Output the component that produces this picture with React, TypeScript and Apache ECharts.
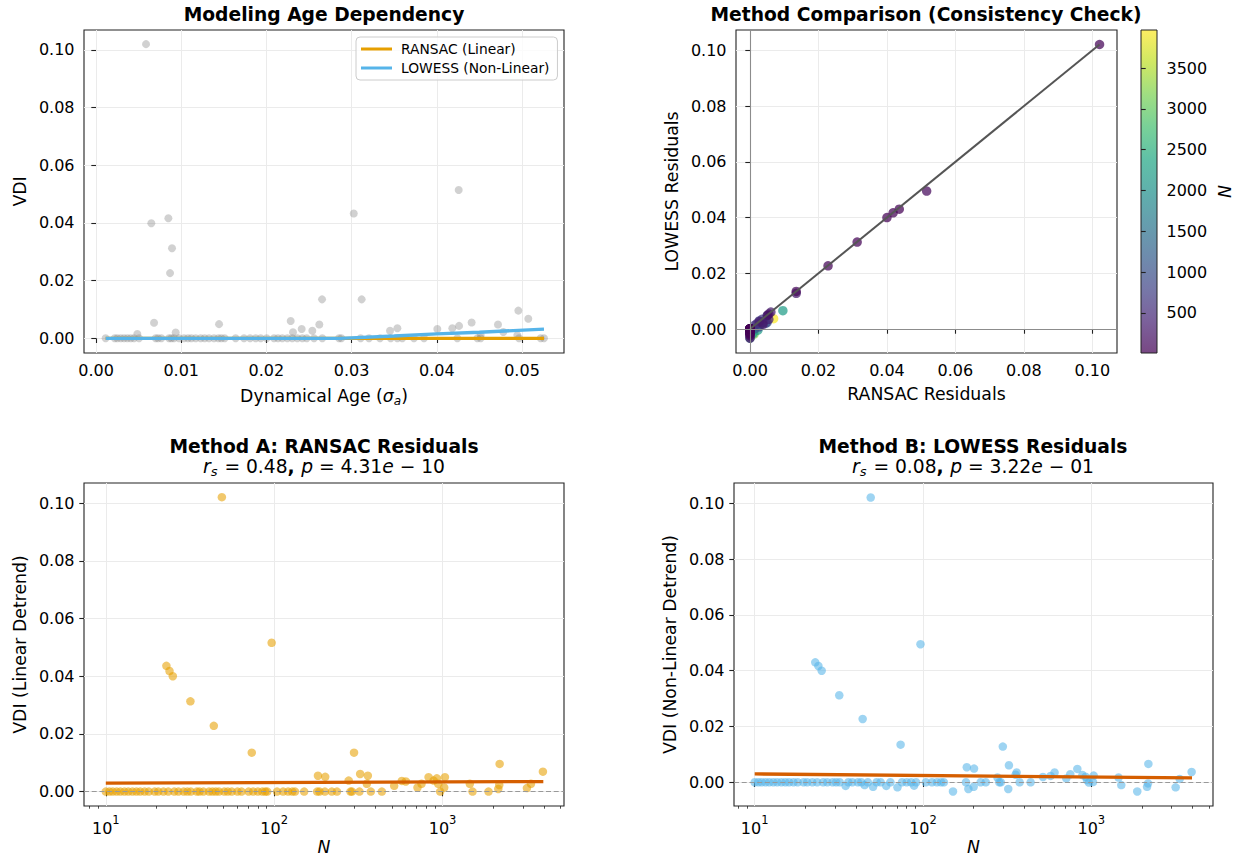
import React, { useEffect, useRef } from 'react';
import * as echarts from 'echarts';

// ---------- Panel 1: VDI vs dynamical age ----------
const ageTL = [
  0.00113, 0.00219, 0.0025, 0.0029, 0.00329, 0.00368, 0.00407, 0.00446, 0.00505, 0.0070,
  0.00728, 0.00767, 0.00857, 0.00884, 0.00915, 0.00974, 0.01033, 0.0108, 0.01119, 0.0117,
  0.01228, 0.01275, 0.01326, 0.01385, 0.01436, 0.01471, 0.0151, 0.01639, 0.01737, 0.01808,
  0.01874, 0.01933, 0.02003, 0.02089, 0.02136, 0.02187, 0.02246, 0.02304, 0.02363, 0.02422,
  0.02473, 0.02559, 0.02656, 0.02852, 0.0288, 0.03106, 0.03204, 0.03333, 0.03459, 0.03537,
  0.03595, 0.03732, 0.0385, 0.04241, 0.04476, 0.04515, 0.04965, 0.05219, 0.05258,
  0.00587, 0.00649, 0.00849, 0.00892, 0.00869, 0.04257, 0.03025, 0.00485, 0.00681, 0.00935,
  0.01444, 0.02285, 0.02312, 0.02414, 0.02539, 0.02621, 0.02653, 0.03118, 0.03451, 0.03537,
  0.04006, 0.04182, 0.04261, 0.04409, 0.04515, 0.04718, 0.04781, 0.04957, 0.05074, 0.04945,
];
const vdiTL = [
  0, 0, 0, 0, 0, 0, 0, 0, 0, 0,
  0, 0, 0, 0, 0, 0, 0, 0, 0, 0,
  0, 0, 0, 0, 0, 0, 0, 0, 0, 0,
  0, 0, 0, 0, 0, 0, 0, 0, 0, 0,
  0, 0, 0, 0, 0, 0, 0, 0, 0, 0,
  0, 0, 0, 0, 0, 0, 0, 0, 0,
  0.1020, 0.0399, 0.0416, 0.0312, 0.0226, 0.0514, 0.0433, 0.0015, 0.0054, 0.0020,
  0.0049, 0.0060, 0.0021, 0.0032, 0.0026, 0.0048, 0.0135, 0.0135, 0.0026, 0.0035,
  0.0032, 0.0035, 0.0043, 0.0055, 0.0011, 0.0048, 0.0022, 0.0096, 0.0068, 0.0011,
];
const ransacFitAge = [0.00113, 0.05258];
const ransacFitVdi = [0.0, 0.0];
const lowessFitAge = [0.00113, 0.010, 0.020, 0.0287, 0.035, 0.040, 0.045, 0.05258];
const lowessFitVdi = [0, 0, 0, 0, 0.0008, 0.0015, 0.0021, 0.0032];

// ---------- Residuals per star (panels 2-4) ----------
const nStars = [
  10, 10.5, 11, 11.6, 12.2, 12.9, 13.6, 14.4, 15.2, 16,
  17, 18, 19.5, 20.5, 22, 23.5, 25.5, 27, 29, 30.5,
  32, 34.7, 36, 38, 41, 43, 45, 47, 50.5, 53,
  56, 60.5, 64, 70.5, 75, 80, 85, 88.5, 91, 104,
  113, 121, 128, 133, 150.7, 180, 186, 200, 220, 236,
  284, 290, 321, 375, 436, 968, 1507, 1875,
  48.9, 96.6, 22.9, 23.9, 25.0, 31.8, 43.8, 73.6, 298, 2183,
  3945, 182, 201, 324, 360, 277, 355, 516, 573, 605,
  710, 750, 826, 885, 925, 942, 1023, 1033, 1452, 2143,
  2172, 3170, 3350,
];
const ransacRes = [
  0, 0, 0, 0, 0, 0, 0, 0, 0, 0,
  0, 0, 0, 0, 0, 0, 0, 0, 0, 0,
  0, 0, 0, 0, 0, 0, 0, 0, 0, 0,
  0, 0, 0, 0, 0, 0, 0, 0, 0, 0,
  0, 0, 0, 0, 0, 0, 0, 0, 0, 0,
  0, 0, 0, 0, 0, 0, 0, 0,
  0.1021, 0.0516, 0.0436, 0.0418, 0.0400, 0.0313, 0.0228, 0.0135, 0.0135, 0.0096,
  0.0069, 0.0055, 0.0051, 0.0061, 0.0055, 0.0038, 0.0027, 0.0020, 0.0037, 0.0035,
  0.0014, 0.0027, 0.0050, 0.0038, 0.0046, 0.0027, 0.0014, 0.0050, 0.0027, 0.0009,
  0.0023, 0.0012, 0.0027,
];
const lowessRes = [
  0, 0, 0, 0, 0, 0, 0, 0, 0, 0,
  0, 0, 0, 0, 0, 0, 0, 0, 0, 0,
  0, -0.0013, 0, 0, 0, 0, -0.0010, 0, -0.0016, 0,
  0, -0.0013, 0, -0.0018, 0, 0, 0, -0.0012, 0, 0,
  0, 0, 0, 0, -0.0033, 0, -0.0024, -0.0016, 0, 0,
  0, 0, -0.0024, 0, 0, -0.0001, -0.0010, -0.0033,
  0.1021, 0.0495, 0.0430, 0.0417, 0.0400, 0.0312, 0.0227, 0.0135, 0.0128, 0.0066,
  0.0037, 0.0054, 0.0049, 0.0061, 0.0035, 0.0017, 0.0027, 0.0019, 0.0023, 0.0035,
  0.0014, 0.0029, 0.0048, 0.0026, 0.0020, 0.0008, 0.0001, 0.0024, 0.0017, -0.0016,
  -0.0004, -0.0018, 0.0012,
];
const trendN = [10, 3966];
const trendA = [0.0029, 0.00347];
const trendB = [0.0030, 0.00155];
const statsA = { rs: '0.48', p: '4.31', e: '10' };
const statsB = { rs: '0.08', p: '3.22', e: '01' };

const nMin = 10;
const nMax = 3966;
const cbTicks = [500, 1000, 1500, 2000, 2500, 3000, 3500];
const resTicks = [0, 0.02, 0.04, 0.06, 0.08, 0.1];
const ageTicks = [0, 0.01, 0.02, 0.03, 0.04, 0.05];
const logMajor = [1, 2, 3];

const viridis = ['#440154', '#482475', '#414487', '#355f8d', '#2a788e', '#21918c', '#22a884', '#44bf70', '#7ad151', '#bddf26', '#fde725'];

const FONT = 'DejaVu Sans';

function hexA(h: string, a: number) {
  const r = parseInt(h.slice(1, 3), 16), g = parseInt(h.slice(3, 5), 16), b = parseInt(h.slice(5, 7), 16);
  return `rgba(${r},${g},${b},${a})`;
}

const logMinor: number[] = [];
for (let d = 0; d <= 3; d++) for (let k = 2; k <= 9; k++) logMinor.push(Math.log10(k * Math.pow(10, d)));

const tickText = { fontFamily: FONT, fontSize: 16, color: '#000' };
const nameText = { fontFamily: FONT, fontSize: 17.3, color: '#000' };
const splitStyle = { show: true, lineStyle: { color: '#ebebeb', width: 1 } };
const tickStyle = { color: '#222', width: 1.1 };

function valAxis(gridIndex: number, min: number, max: number, ticks: number[], digits: number, extra: any = {}) {
  return {
    type: 'value', gridIndex, min, max,
    axisLine: { show: false },
    axisTick: { show: true, length: 4.7, lineStyle: tickStyle, customValues: ticks },
    axisLabel: { show: true, customValues: ticks, margin: 9.5, formatter: (v: number) => v.toFixed(digits), ...tickText },
    splitLine: splitStyle,
    nameTextStyle: nameText,
    nameLocation: 'middle',
    ...extra,
  };
}

function logMajorAxis(gridIndex: number, min: number, max: number) {
  return {
    type: 'value', gridIndex, min, max, position: 'bottom',
    axisLine: { show: false },
    axisTick: { show: true, length: 4.7, lineStyle: tickStyle, customValues: logMajor },
    axisLabel: {
      show: true, customValues: logMajor, margin: 8,
      formatter: (v: number) => `{b|10}{s|${Math.round(v)}}`,
      rich: {
        b: { fontFamily: FONT, fontSize: 16, color: '#000', lineHeight: 22, verticalAlign: 'bottom' },
        s: { fontFamily: FONT, fontSize: 11.5, color: '#000', lineHeight: 22, verticalAlign: 'top' },
      },
    },
    splitLine: splitStyle,
    name: 'N', nameLocation: 'middle', nameGap: 32,
    nameTextStyle: { ...nameText, fontStyle: 'italic' },
  };
}
function logMinorAxis(gridIndex: number, min: number, max: number) {
  return {
    type: 'value', gridIndex, min, max, position: 'bottom',
    axisLine: { show: false },
    axisTick: { show: true, length: 2.7, lineStyle: { color: '#222', width: 0.8 }, customValues: logMinor },
    axisLabel: { show: false },
    splitLine: { show: false },
  };
}

const gridBox = { show: true, borderColor: '#222', borderWidth: 1.1, backgroundColor: 'transparent' };

function subTitle(s: { rs: string; p: string; e: string }) {
  return `{i|r}{sub|s}{n| = ${s.rs}}{b|, }{i|p}{n| = ${s.p}}{i|e}{n| − ${s.e}}`;
}
const subRich = {
  n: { fontFamily: FONT, fontSize: 18.7, fontWeight: 'normal', color: '#000', lineHeight: 24 },
  b: { fontFamily: FONT, fontSize: 18.7, fontWeight: 'bold', color: '#000', lineHeight: 24 },
  i: { fontFamily: FONT, fontSize: 18.7, fontWeight: 'normal', fontStyle: 'italic', color: '#000', lineHeight: 24 },
  sub: { fontFamily: FONT, fontSize: 13, fontWeight: 'normal', fontStyle: 'italic', color: '#000', lineHeight: 24, verticalAlign: 'bottom', padding: [0, 1, 0, 0] },
};

function buildOption() {
  const titleStyle = { fontFamily: FONT, fontSize: 18.7, fontWeight: 'bold', color: '#000', lineHeight: 22 };
  // high-N stars first so the dense low-N (purple) points end up on top
  const order = nStars.map((_, i) => i).sort((a, b) => nStars[b] - nStars[a]);
  const resPts = order.map((i) => [ransacRes[i], lowessRes[i], nStars[i]]);
  const lo = Math.min(...ransacRes);
  const hi = Math.max(...ransacRes);

  return {
    animation: false,
    backgroundColor: '#fff',
    title: [
      { text: 'Modeling Age Dependency', left: 324, top: 3, textAlign: 'center', padding: 0, textStyle: titleStyle },
      { text: 'Method Comparison (Consistency Check)', left: 926, top: 3, textAlign: 'center', padding: 0, textStyle: titleStyle },
      { text: 'Method A: RANSAC Residuals', left: 324, top: 435, textAlign: 'center', padding: 0, textStyle: titleStyle },
      { text: subTitle(statsA), left: 324, top: 454, textAlign: 'center', padding: 0, textStyle: { fontWeight: 'normal', rich: subRich } },
      { text: 'Method B: LOWESS Residuals', left: 973, top: 435, textAlign: 'center', padding: 0, textStyle: titleStyle },
      { text: subTitle(statsB), left: 973, top: 454, textAlign: 'center', padding: 0, textStyle: { fontWeight: 'normal', rich: subRich } },
    ],
    legend: {
      data: ['RANSAC (Linear)', 'LOWESS (Non-Linear)'],
      orient: 'vertical', left: 356, top: 37,
      icon: 'rect', itemWidth: 31, itemHeight: 3, itemGap: 5,
      textStyle: { fontFamily: FONT, fontSize: 13.8, color: '#000', padding: [0, 0, 0, 4] },
      borderColor: '#cccccc', borderWidth: 1, borderRadius: 4,
      padding: [5, 8, 5, 5], backgroundColor: 'rgba(255,255,255,0.8)',
    },
    visualMap: [{
      type: 'continuous', show: false, min: nMin, max: nMax, dimension: 2, seriesIndex: 3,
      inRange: { color: viridis },
    }],
    grid: [
      { left: 84, top: 30, width: 480, height: 323, ...gridBox },
      { left: 736, top: 30, width: 381, height: 323, ...gridBox },
      { left: 84, top: 483, width: 480, height: 323, ...gridBox },
      { left: 734, top: 483, width: 479, height: 323, ...gridBox },
      {
        left: 1141, top: 30, width: 16, height: 323, show: true, borderColor: '#222', borderWidth: 1,
        backgroundColor: new echarts.graphic.LinearGradient(0, 1, 0, 0,
          viridis.map((c, i) => ({ offset: i / (viridis.length - 1), color: hexA(c, 0.72) }))),
      },
    ],
    xAxis: [
      valAxis(0, -0.00141, 0.05493, ageTicks, 2, {
        name: '{n|Dynamical Age (}{i|σ}{sub|a}{n|)}', nameGap: 32,
        nameTextStyle: {
          ...nameText,
          rich: {
            n: { ...nameText },
            i: { ...nameText, fontStyle: 'italic' },
            sub: { ...nameText, fontSize: 12, fontStyle: 'italic', verticalAlign: 'bottom', lineHeight: 22 },
          },
        },
      }),
      valAxis(1, -0.00409, 0.1072, resTicks, 2, { name: 'RANSAC Residuals', nameGap: 32 }),
      logMajorAxis(2, 0.8705, 3.7213),
      logMinorAxis(2, 0.8705, 3.7213),
      logMajorAxis(3, 0.877, 3.723),
      logMinorAxis(3, 0.877, 3.723),
      { type: 'value', gridIndex: 4, min: 0, max: 1, show: false },
    ],
    yAxis: [
      valAxis(0, -0.0051, 0.1069, resTicks, 2, { name: 'VDI', nameGap: 56 }),
      valAxis(1, -0.0086, 0.1073, resTicks, 2, { name: 'LOWESS Residuals', nameGap: 56 }),
      valAxis(2, -0.0050, 0.1070, resTicks, 2, { name: 'VDI (Linear Detrend)', nameGap: 56 }),
      valAxis(3, -0.0085, 0.1073, resTicks, 2, { name: 'VDI (Non-Linear Detrend)', nameGap: 56 }),
      {
        type: 'value', gridIndex: 4, min: nMin, max: nMax, position: 'right',
        axisLine: { show: false },
        axisTick: { show: true, length: 4.7, lineStyle: tickStyle, customValues: cbTicks },
        axisLabel: { show: true, customValues: cbTicks, margin: 9.5, formatter: (v: number) => String(Math.round(v)), ...tickText },
        splitLine: { show: false },
        name: 'N', nameLocation: 'middle', nameGap: 58, nameRotate: -90,
        nameTextStyle: { ...nameText, fontStyle: 'italic' },
      },
    ],
    series: [
      {
        type: 'scatter', xAxisIndex: 0, yAxisIndex: 0, symbolSize: 8,
        itemStyle: { color: 'rgba(128,128,128,0.45)' },
        data: ageTL.map((a, i) => [a, vdiTL[i]]), z: 2,
      },
      {
        name: 'RANSAC (Linear)', type: 'line', xAxisIndex: 0, yAxisIndex: 0, showSymbol: false, symbol: 'none',
        lineStyle: { color: '#E69F00', width: 3.3 }, itemStyle: { color: '#E69F00' },
        data: ransacFitAge.map((a, i) => [a, ransacFitVdi[i]]), z: 3,
      },
      {
        name: 'LOWESS (Non-Linear)', type: 'line', xAxisIndex: 0, yAxisIndex: 0, showSymbol: false, symbol: 'none',
        lineStyle: { color: '#56B4E9', width: 3.3 }, itemStyle: { color: '#56B4E9' },
        data: lowessFitAge.map((a, i) => [a, lowessFitVdi[i]]), z: 4,
      },
      {
        type: 'scatter', xAxisIndex: 1, yAxisIndex: 1, symbolSize: 9.5,
        itemStyle: { opacity: 0.72 },
        data: resPts, z: 2,
        markLine: {
          silent: true, symbol: 'none', label: { show: false },
          lineStyle: { color: '#8c8c8c', width: 1.1, type: 'solid' },
          data: [{ xAxis: 0 }, { yAxis: 0 }],
        },
      },
      {
        type: 'line', xAxisIndex: 1, yAxisIndex: 1, showSymbol: false, symbol: 'none',
        lineStyle: { color: '#555555', width: 2 },
        data: [[lo, lo], [hi, hi]], z: 4,
      },
      {
        type: 'scatter', xAxisIndex: 2, yAxisIndex: 2, symbolSize: 8.5,
        itemStyle: { color: 'rgba(230,159,0,0.72)' },
        data: nStars.map((n, i) => [Math.log10(n), ransacRes[i]]), z: 2,
        markLine: {
          silent: true, symbol: 'none', label: { show: false },
          lineStyle: { color: '#999999', width: 1.1, type: [5, 2.7] },
          data: [{ yAxis: 0 }],
        },
      },
      {
        type: 'line', xAxisIndex: 2, yAxisIndex: 2, showSymbol: false, symbol: 'none',
        lineStyle: { color: '#D55E00', width: 3.3 },
        data: trendN.map((n, i) => [Math.log10(n), trendA[i]]), z: 4,
      },
      {
        type: 'scatter', xAxisIndex: 4, yAxisIndex: 3, symbolSize: 8.5,
        itemStyle: { color: 'rgba(86,180,233,0.72)' },
        data: nStars.map((n, i) => [Math.log10(n), lowessRes[i]]), z: 2,
        markLine: {
          silent: true, symbol: 'none', label: { show: false },
          lineStyle: { color: '#999999', width: 1.1, type: [5, 2.7] },
          data: [{ yAxis: 0 }],
        },
      },
      {
        type: 'line', xAxisIndex: 4, yAxisIndex: 3, showSymbol: false, symbol: 'none',
        lineStyle: { color: '#D55E00', width: 3.3 },
        data: trendN.map((n, i) => [Math.log10(n), trendB[i]]), z: 4,
      },
    ],
  };
}

export default function App() {
  const ref = useRef<HTMLDivElement>(null);
  useEffect(() => {
    document.body.style.margin = '0';
    if (!ref.current) return;
    const chart = echarts.init(ref.current, undefined, { renderer: 'svg' });
    chart.setOption(buildOption() as any);
    return () => chart.dispose();
  }, []);
  return <div ref={ref} style={{ width: 1247, height: 861 }} />;
}
